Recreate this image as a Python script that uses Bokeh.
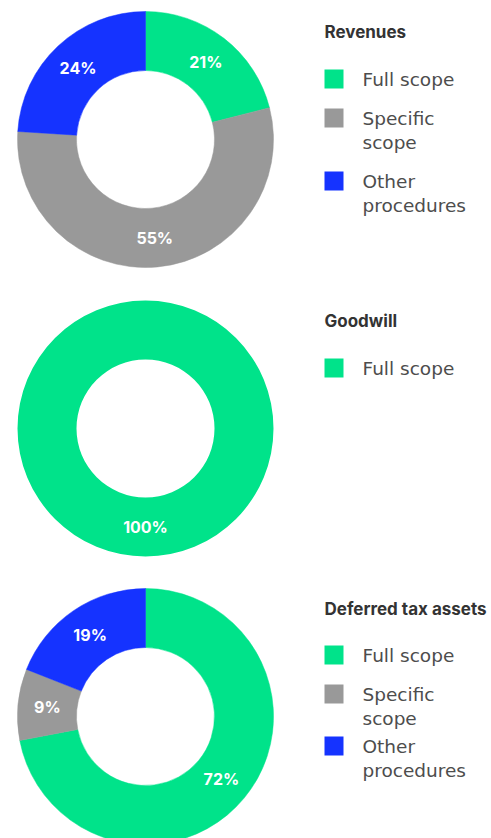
import textwrap
import numpy as np
from bokeh.plotting import figure
from bokeh.models import Range1d
from bokeh.core.properties import value
from bokeh.embed import file_html
from bokeh.resources import INLINE

# ---- data ----
titles = ["Revenues", "Goodwill", "Deferred tax assets"]
categories = ["Full scope", "Specific scope", "Other procedures"]
revenues = [21, 55, 24]
goodwill = [100]
deferred_tax_assets = [72, 9, 19]
colors = ["#00E38A", "#999999", "#1533FF"]

panels = [
    (titles[0], categories[:3], revenues),
    (titles[1], categories[:1], goodwill),
    (titles[2], categories[:3], deferred_tax_assets),
]

# ---- layout (screen pixels) ----
W, H = 491, 838
title_y = [31, 320, 608]
legend_rows = [[38, 77, 140], [38], [37, 76, 128]]
cx = 145
R_OUT, R_IN = 128, 69
FONT = "Inter"
LEG_FONT = "DejaVu Sans"


def sy(y):
    return 838 - y


p = figure(width=W, height=H, x_range=Range1d(0, W), y_range=Range1d(838 - H, 838),
           output_backend="svg", toolbar_location=None, min_border=0)
p.axis.visible = False
p.grid.visible = False
p.outline_line_color = None
p.background_fill_color = "white"

for (title, cats, vals), ty, rows in zip(panels, title_y, legend_rows):
    cy = ty + 108
    vals = np.array(vals, dtype=float)
    frac = vals / vals.sum()
    cum = np.concatenate([[0], np.cumsum(frac)])
    starts = np.pi / 2 - 2 * np.pi * cum[:-1]
    ends = np.pi / 2 - 2 * np.pi * cum[1:]
    for i, (s, e, f) in enumerate(zip(starts, ends, frac)):
        if f >= 0.9999:
            p.annulus(x=cx, y=sy(cy), inner_radius=R_IN, outer_radius=R_OUT,
                      fill_color=colors[i], line_color=None)
        else:
            p.annular_wedge(x=cx, y=sy(cy), inner_radius=R_IN, outer_radius=R_OUT,
                            start_angle=s, end_angle=e, direction="clock",
                            fill_color=colors[i], line_color=colors[i], line_width=0.5)
    mids = (starts + ends) / 2
    rl = (R_IN + R_OUT) / 2
    lx = [cx + rl * np.cos(m) for m in mids]
    ly = [sy(cy) + rl * np.sin(m) for m in mids]
    p.text(x=lx, y=ly, text=[f"{int(v)}%" for v in vals], text_color="white",
           text_font=value(FONT), text_font_style="bold", text_font_size="16px",
           text_align="center", text_baseline="middle")

    # legend
    p.text(x=[324], y=[sy(ty)], text=[title], text_color="#333333",
           text_font=value(FONT), text_font_style="bold", text_font_size="17px",
           text_align="left", text_baseline="middle")
    for i, (cat, off) in enumerate(zip(cats, rows)):
        top = ty + off
        p.rect(x=[333.5], y=[sy(top + 9.5)], width=19, height=19,
               fill_color=colors[i], line_color=None)
        lines = textwrap.wrap(cat, 12)
        p.text(x=[362] * len(lines), y=[sy(top + 10 + 24 * k) for k in range(len(lines))],
               text=lines, text_color="#4d4d4d", text_font=value(LEG_FONT),
               text_font_size="18.5px", text_align="left", text_baseline="middle")

open("out.html", "w").write(file_html(p, INLINE))
